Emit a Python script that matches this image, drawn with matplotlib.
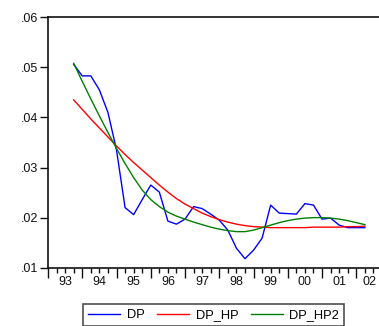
import numpy as np
import matplotlib
matplotlib.use("Agg")
import matplotlib.pyplot as plt
from matplotlib.ticker import FixedLocator, NullFormatter
from matplotlib.lines import Line2D

plt.rcParams['font.family'] = ['Liberation Sans', 'DejaVu Sans']

# Quarterly observations 1993Q4 .. 2002Q2
start_year = 1993.75
dp = [0.0506, 0.0483, 0.0483, 0.0455, 0.0410, 0.0335, 0.0220, 0.0206, 0.0236,
      0.0265, 0.0251, 0.0193, 0.0187, 0.0197, 0.0222, 0.0218, 0.0207, 0.0195,
      0.0175, 0.0139, 0.0118, 0.0135, 0.0159, 0.0225, 0.0209, 0.0208, 0.0207,
      0.0228, 0.0225, 0.0197, 0.0199, 0.0185, 0.0180, 0.0180, 0.0180]
dp_hp = [0.0435, 0.0416, 0.0397, 0.0379, 0.0361, 0.0343, 0.0326, 0.0310, 0.0295,
         0.0280, 0.0265, 0.0251, 0.0238, 0.0227, 0.0218, 0.0209, 0.0202, 0.0196,
         0.0191, 0.0187, 0.0184, 0.0182, 0.0181, 0.0180, 0.0180, 0.0180, 0.0180,
         0.0180, 0.0181, 0.0181, 0.0181, 0.0181, 0.0182, 0.0182, 0.0183]
dp_hp2 = [0.0508, 0.0472, 0.0437, 0.0403, 0.0370, 0.0338, 0.0308, 0.0280, 0.0255,
          0.0236, 0.0222, 0.0211, 0.0203, 0.0197, 0.0191, 0.0186, 0.0181, 0.0177,
          0.0174, 0.0172, 0.0172, 0.0175, 0.0180, 0.0185, 0.0190, 0.0194, 0.0197,
          0.0199, 0.0200, 0.0200, 0.0199, 0.0197, 0.0194, 0.0190, 0.0186]
year_labels = ["93", "94", "95", "96", "97", "98", "99", "00", "01", "02"]
y_ticks = [0.01, 0.02, 0.03, 0.04, 0.05, 0.06]

x = start_year + 0.25 * np.arange(len(dp))
xmin, xmax = 1993.0, 2002.75

W, H = 379, 326
fig = plt.figure(figsize=(W / 100, H / 100), dpi=100)
ax = fig.add_axes([48 / W, 58.3 / H, 334 / W, 250.4 / H])

ax.plot(x, dp, color="#0000ff", lw=1.0, label="DP")
ax.plot(x, dp_hp, color="#ff0000", lw=1.0, label="DP_HP")
ax.plot(x, dp_hp2, color="#008000", lw=1.0, label="DP_HP2")

ax.set_xlim(xmin, xmax)
ax.set_ylim(0.01, 0.06)

for side in ["left", "bottom", "top", "right"]:
    ax.spines[side].set_linewidth(1.2)
    ax.spines[side].set_color("#111111")

ax.set_yticks(y_ticks)
ax.yaxis.set_major_formatter(plt.FuncFormatter(lambda v, p: ("%.2f" % v)[1:]))
ax.tick_params(axis="y", direction="out", length=6, width=1, labelsize=9, pad=1,
               colors="#111111")

years = np.arange(1993, 2003)
quarters = [yr + q for yr in years for q in (0.25, 0.5, 0.75) if yr + q < xmax]
ax.xaxis.set_major_locator(FixedLocator(list(years)))
ax.xaxis.set_minor_locator(FixedLocator(quarters))
ax.xaxis.set_major_formatter(NullFormatter())
ax.tick_params(axis="x", which="major", direction="out", length=7, width=1,
               colors="#111111")
ax.tick_params(axis="x", which="minor", direction="out", length=3.5, width=1,
               colors="#111111")

# Year labels centred on the visible part of each year
trans = ax.get_xaxis_transform()
for yr, lab in zip(years, year_labels):
    c = (max(yr, xmin) + min(yr + 1, xmax)) / 2
    ax.text(c, -0.035, lab, transform=trans, ha="center", va="top", fontsize=9,
            color="#111111")

handles = [Line2D([], [], color=c, lw=1.0) for c in ("#0000ff", "#ff0000", "#008000")]
leg = fig.legend(handles, ["DP", "DP_HP", "DP_HP2"], ncol=3, loc="upper left",
                 bbox_to_anchor=(83 / W, 1 - 304 / H), borderaxespad=0,
                 fontsize=9.3, handlelength=2.5, handletextpad=0.5,
                 columnspacing=0.95, borderpad=0.4, fancybox=False,
                 frameon=True)
leg.get_frame().set_edgecolor("#222222")
leg.get_frame().set_linewidth(1.2)

fig.savefig("out.png", dpi=100)
